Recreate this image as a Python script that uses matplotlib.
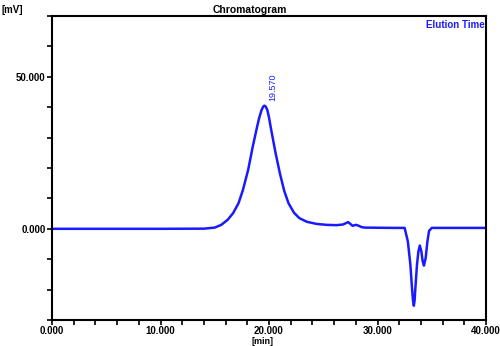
import matplotlib
matplotlib.use('Agg')
import matplotlib.pyplot as plt
from matplotlib.ticker import MultipleLocator, FormatStrFormatter

plt.rcParams['font.family'] = ['Liberation Sans', 'DejaVu Sans']

# values
time_min = [0, 5, 10, 14.0, 15.0, 15.6, 16.2, 16.7, 17.2, 17.6, 18.08, 18.5,
            18.9, 19.1, 19.3, 19.45, 19.57, 19.7, 19.85, 20.0, 20.2, 20.6,
            21.0, 21.4, 21.8, 22.3, 22.8, 23.5, 24.4, 25.3, 26.2, 26.8,
            27.3, 27.5, 27.7, 28.0, 28.2, 28.5, 28.8, 30.0, 31.5, 32.5,
            32.8, 33.03, 33.18, 33.27, 33.35, 33.42, 33.49, 33.64, 33.77,
            33.9, 34.04, 34.16, 34.28, 34.44, 34.6, 34.75, 35.0, 37.0, 40.0]
signal_mv = [0, 0, 0, 0.05, 0.4, 1.3, 3.0, 5.2, 8.5, 12.8, 19.4, 27,
             33.5, 36.5, 38.9, 40.1, 40.5, 40.2, 39.0, 36.6, 32.6, 25,
             18.3, 12.5, 8.4, 5.3, 3.5, 2.3, 1.6, 1.3, 1.2, 1.4,
             2.2, 1.6, 1.0, 1.3, 1.1, 0.6, 0.4, 0.35, 0.3, 0.3,
             -4.2, -11.8, -19.5, -23.5, -25.3, -23.5, -19.5, -11.8, -7.4,
             -5.5, -7.4, -10.6, -12.1, -9.6, -4.2, -0.7, 0.3, 0.3, 0.3]
peak_time = 19.570
peak_height = 40.5

blue = '#1a1aff'

fig = plt.figure(figsize=(5, 3.46), dpi=100)
ax = fig.add_axes([0.104, 0.075, 0.868, 0.879])
ax.plot(time_min, signal_mv, color=blue, lw=1.8, solid_joinstyle='round')

ax.set_xlim(0, 40)
ax.set_ylim(-30, 70)
ax.xaxis.set_major_locator(MultipleLocator(10))
ax.xaxis.set_minor_locator(MultipleLocator(2))
ax.yaxis.set_major_locator(MultipleLocator(50))
ax.yaxis.set_minor_locator(MultipleLocator(10))
ax.xaxis.set_major_formatter(FormatStrFormatter('%.3f'))
ax.yaxis.set_major_formatter(FormatStrFormatter('%.3f'))
ax.tick_params(which='both', direction='out', width=1.2, length=3.5,
               labelsize=7, pad=1.0)
ax.tick_params(axis='x', which='both', pad=0.5)
for lab in ax.get_xticklabels() + ax.get_yticklabels():
    lab.set_fontweight('bold')
for sp in ax.spines.values():
    sp.set_linewidth(1.5)

ax.text(peak_time + 0.35, peak_height + 1.5, '19.570', rotation=90,
        color=blue, fontsize=6.5, ha='left', va='bottom')
ax.text(0.998, 0.985, 'Elution Time', transform=ax.transAxes, color=blue,
        fontsize=7, fontweight='bold', ha='right', va='top')

fig.text(0.5, 0.985, 'Chromatogram', ha='center', va='top', fontsize=7.5,
         fontweight='bold')
fig.text(0.004, 0.985, '[mV]', ha='left', va='top', fontsize=7,
         fontweight='bold')
fig.text(0.524, 0.0, '[min]', ha='center', va='bottom', fontsize=6.5,
         fontweight='bold')

fig.savefig('out.png', dpi=100)
